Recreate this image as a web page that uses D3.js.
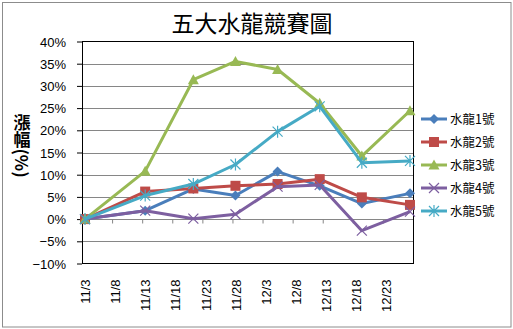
<!DOCTYPE html>
<html>
<head>
<meta charset="utf-8">
<script src="https://cdn.jsdelivr.net/npm/d3@7/dist/d3.min.js"></script>
<style>
  html, body { margin: 0; padding: 0; background: #fff; }
  svg { display: block; }
  text { font-family: "Liberation Sans", Arial, sans-serif; }
  .cjk { font-family: "Noto Sans CJK TC", "Noto Sans CJK SC", sans-serif; }
</style>
</head>
<body>
<script>
// Race dates (year-less, month/day) and percentage change of each dragon boat
const dates = ["11/3", "11/13", "11/21", "11/28", "12/5", "12/12", "12/19", "12/27"];
const seriesNames = ["水龍1號", "水龍2號", "水龍3號", "水龍4號", "水龍5號"];
const boat1 = [0.000, 0.019, 0.068, 0.053, 0.107, 0.075, 0.035, 0.058];
const boat2 = [0.000, 0.062, 0.069, 0.075, 0.079, 0.090, 0.049, 0.032];
const boat3 = [0.000, 0.108, 0.314, 0.355, 0.337, 0.261, 0.142, 0.244];
const boat4 = [0.000, 0.019, 0.001, 0.011, 0.073, 0.077, -0.026, 0.017];
const boat5 = [0.000, 0.053, 0.079, 0.123, 0.197, 0.254, 0.127, 0.131];
const xTickLabels = ["11/3", "11/8", "11/13", "11/18", "11/23", "11/28", "12/3", "12/8", "12/13", "12/18", "12/23"];
const yTicks = [-0.10, -0.05, 0, 0.05, 0.10, 0.15, 0.20, 0.25, 0.30, 0.35, 0.40];
const axisStart = "11/3", axisEnd = "12/28";

const W = 513, H = 329;
const YEAR = 2013;
const parse = s => { const [m, d] = s.split("/").map(Number); return new Date(Date.UTC(YEAR, m - 1, d)); };
const noon = s => d3.utcHour.offset(parse(s), 12);

const plot = { left: 82, right: 413, top: 41.5, bottom: 263.5 };

const svg = d3.select("body").append("svg").attr("width", W).attr("height", H);

// outer chart frame
svg.append("rect").attr("x", 2.5).attr("y", 2.5).attr("width", 508.5).attr("height", 324.5)
  .attr("fill", "#fff").attr("stroke", "#8c8c8c").attr("stroke-width", 1);

const x = d3.scaleUtc().domain([parse(axisStart), parse(axisEnd)]).range([plot.left, plot.right]);
const y = d3.scaleLinear().domain([-0.10, 0.40]).range([plot.bottom, plot.top]);

// horizontal gridlines
svg.append("g").selectAll("line").data(yTicks.filter(v => v > -0.10 && v < 0.40)).join("line")
  .attr("x1", plot.left).attr("x2", plot.right)
  .attr("y1", d => Math.round(y(d)) + 0.5).attr("y2", d => Math.round(y(d)) + 0.5)
  .attr("stroke", "#868686").attr("stroke-width", 1);

// value axis with outside ticks
const yAxis = svg.append("g").attr("transform", `translate(${plot.left},0)`)
  .call(d3.axisLeft(y).tickValues(yTicks).tickSize(5).tickPadding(11).tickFormat(d3.format(".0%")));
yAxis.select(".domain").remove();
yAxis.selectAll(".tick line").attr("stroke", "#000");
yAxis.selectAll(".tick text").attr("font-size", 13).attr("fill", "#000").attr("dy", "0.36em");

// date axis tick marks along the zero line (at day boundaries)
const tickDays = xTickLabels.slice(1).map(parse);
const zeroAxis = svg.append("g").attr("transform", `translate(0,${Math.round(y(0)) + 0.5})`)
  .call(d3.axisBottom(x).tickValues(tickDays).tickSize(4).tickFormat(""));
zeroAxis.select(".domain").remove();
zeroAxis.selectAll(".tick line").attr("stroke", "#868686");

// date labels, centred on each day and rotated
const labelAxis = svg.append("g").attr("transform", `translate(0,${plot.bottom})`)
  .call(d3.axisBottom(x).tickValues(xTickLabels.map(noon)).tickSize(0)
    .tickFormat(d => `${d.getUTCMonth() + 1}/${d.getUTCDate()}`));
labelAxis.select(".domain").remove();
labelAxis.selectAll(".tick text")
  .attr("font-size", 13).attr("fill", "#000")
  .attr("transform", "rotate(-90)")
  .attr("text-anchor", "end")
  .attr("x", -16).attr("y", 0).attr("dy", "0.36em");

// plot area frame
svg.append("rect").attr("x", plot.left + 0.5).attr("y", plot.top)
  .attr("width", plot.right - plot.left).attr("height", plot.bottom - plot.top)
  .attr("fill", "none").attr("stroke", "#000").attr("stroke-width", 1);

const colors = ["#4a7ebb", "#be4b48", "#98b954", "#7d5fa0", "#46aac5"];
const allSeries = [boat1, boat2, boat3, boat4, boat5];

function marker(g, i, cx, cy) {
  const c = colors[i];
  if (i === 0) {
    g.append("path").attr("d", `M${cx},${cy - 5}L${cx + 5},${cy}L${cx},${cy + 5}L${cx - 5},${cy}Z`).attr("fill", c);
  } else if (i === 1) {
    g.append("rect").attr("x", cx - 5).attr("y", cy - 5).attr("width", 10).attr("height", 10).attr("fill", c);
  } else if (i === 2) {
    g.append("path").attr("d", `M${cx},${cy - 5.5}L${cx + 5.5},${cy + 4.5}L${cx - 5.5},${cy + 4.5}Z`).attr("fill", c);
  } else if (i === 3) {
    g.append("path").attr("d", `M${cx - 5},${cy - 5}L${cx + 5},${cy + 5}M${cx - 5},${cy + 5}L${cx + 5},${cy - 5}`)
      .attr("stroke", c).attr("stroke-width", 1.2).attr("fill", "none");
  } else {
    g.append("path").attr("d", `M${cx - 5},${cy - 5}L${cx + 5},${cy + 5}M${cx - 5},${cy + 5}L${cx + 5},${cy - 5}M${cx},${cy - 6}L${cx},${cy + 6}`)
      .attr("stroke", c).attr("stroke-width", 1.2).attr("fill", "none");
  }
}

const line = d3.line().x(d => x(noon(d.date))).y(d => y(d.v));
allSeries.forEach((vals, i) => {
  const pts = vals.map((v, k) => ({ date: dates[k], v }));
  const g = svg.append("g");
  g.append("path").attr("d", line(pts)).attr("fill", "none")
    .attr("stroke", colors[i]).attr("stroke-width", 3).attr("stroke-linejoin", "round");
  pts.forEach(p => marker(g, i, x(noon(p.date)), y(p.v)));
});

// legend
const legend = svg.append("g");
seriesNames.forEach((name, i) => {
  const ly = 119 + i * 23;
  const g = legend.append("g");
  g.append("line").attr("x1", 421).attr("x2", 447).attr("y1", ly).attr("y2", ly)
    .attr("stroke", colors[i]).attr("stroke-width", 3);
  marker(g, i, 434, ly);
  g.append("text").attr("class", "cjk").attr("x", 450).attr("y", ly).attr("dy", "0.36em")
    .attr("font-size", 12.5).attr("fill", "#000").text(name);
});

// title
svg.append("text").attr("class", "cjk").attr("x", 252).attr("y", 32)
  .attr("text-anchor", "middle").attr("font-size", 23).attr("fill", "#000").text("五大水龍競賽圖");

// value axis title, vertical
svg.append("text").attr("class", "cjk")
  .attr("x", 22).attr("y", 146)
  .attr("text-anchor", "middle")
  .style("writing-mode", "vertical-rl")
  .attr("dominant-baseline", "central")
  .attr("font-size", 17).attr("font-weight", "bold").attr("fill", "#000").text("漲幅(%)");
</script>
</body>
</html>
